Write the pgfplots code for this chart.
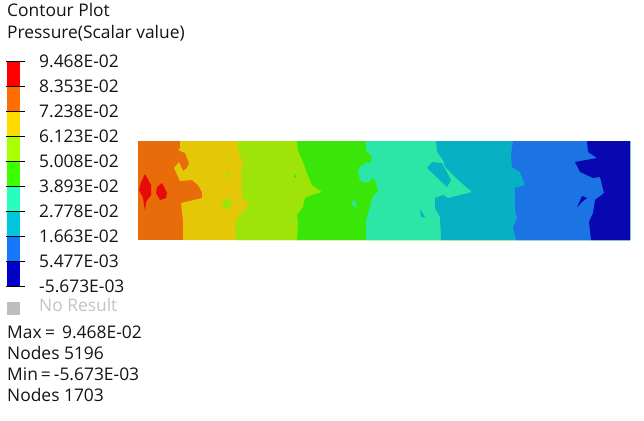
\documentclass[border=0pt]{standalone}
\usepackage{pgfplots}
\pgfplotsset{compat=1.18}
\usepackage{fontspec}
\setmainfont{Open Sans}
\definecolor{fRed}{RGB}{232,10,10}
\definecolor{fOrange}{RGB}{232,108,10}
\definecolor{fYellow}{RGB}{228,200,8}
\definecolor{fLime}{RGB}{158,228,8}
\definecolor{fGreen}{RGB}{58,230,8}
\definecolor{fTeal}{RGB}{44,230,168}
\definecolor{fCyan}{RGB}{8,176,196}
\definecolor{fBlue}{RGB}{28,116,228}
\definecolor{fNavy}{RGB}{8,8,176}
\definecolor{bRed}{RGB}{255,0,0}
\definecolor{bOrange}{RGB}{255,110,0}
\definecolor{bYellow}{RGB}{255,220,0}
\definecolor{bLime}{RGB}{170,255,0}
\definecolor{bGreen}{RGB}{60,255,0}
\definecolor{bTeal}{RGB}{40,255,190}
\definecolor{bCyan}{RGB}{0,200,220}
\definecolor{bBlue}{RGB}{20,120,255}
\definecolor{bNavy}{RGB}{0,0,200}
\definecolor{txt}{RGB}{20,20,20}
\definecolor{nores}{RGB}{195,195,195}
\definecolor{nobox}{RGB}{190,190,190}
\newcommand{\lab}[3][txt]{\node[anchor=base west,inner sep=0pt,text=#1,font=\fontsize{17.4}{20}\selectfont] at (axis cs:#2) {#3};}
\begin{document}
\begin{tikzpicture}
\useasboundingbox (0,0) rectangle (644pt,420pt);
\begin{axis}[
  at={(0,0)},anchor=south west,
  width=644pt,height=420pt,scale only axis,
  xmin=0,xmax=644,ymin=0,ymax=420,y dir=reverse,
  hide axis,clip=false]
% colour bar bins
\addplot[fill=bRed,draw=none] coordinates {(7,61)(20,61)(20,86)(7,86)} -- cycle;
\addplot[fill=bOrange,draw=none] coordinates {(7,86)(20,86)(20,111)(7,111)} -- cycle;
\addplot[fill=bYellow,draw=none] coordinates {(7,111)(20,111)(20,136)(7,136)} -- cycle;
\addplot[fill=bLime,draw=none] coordinates {(7,136)(20,136)(20,161)(7,161)} -- cycle;
\addplot[fill=bGreen,draw=none] coordinates {(7,161)(20,161)(20,186)(7,186)} -- cycle;
\addplot[fill=bTeal,draw=none] coordinates {(7,186)(20,186)(20,211)(7,211)} -- cycle;
\addplot[fill=bCyan,draw=none] coordinates {(7,211)(20,211)(20,236)(7,236)} -- cycle;
\addplot[fill=bBlue,draw=none] coordinates {(7,236)(20,236)(20,261)(7,261)} -- cycle;
\addplot[fill=bNavy,draw=none] coordinates {(7,261)(20,261)(20,286)(7,286)} -- cycle;
\addplot[black,line width=0.8pt] coordinates {(6,61)(25,61)};
\addplot[black,line width=0.8pt] coordinates {(6,86)(25,86)};
\addplot[black,line width=0.8pt] coordinates {(6,111)(25,111)};
\addplot[black,line width=0.8pt] coordinates {(6,136)(25,136)};
\addplot[black,line width=0.8pt] coordinates {(6,161)(25,161)};
\addplot[black,line width=0.8pt] coordinates {(6,186)(25,186)};
\addplot[black,line width=0.8pt] coordinates {(6,211)(25,211)};
\addplot[black,line width=0.8pt] coordinates {(6,236)(25,236)};
\addplot[black,line width=0.8pt] coordinates {(6,261)(25,261)};
\addplot[black,line width=0.8pt] coordinates {(6,286)(25,286)};
\addplot[fill=nobox,draw=none] coordinates {(7,302)(20,302)(20,315)(7,315)} -- cycle;
% plate bands, painted left to right
\addplot[fill=fOrange,draw=none] coordinates {(138,141)(630,141)(630,240)(138,240)} -- cycle;
\addplot[fill=fYellow,draw=none] coordinates {(180,141)(180,148)(178,150)(185,153)(189,163)(187,168)(183,171)(179,162)(174,168)(180,181)(192,180)(198,185)(202,192)(202,198)(181,203)(182,212)(183,220)(183,240)(630,240)(630,141)} -- cycle;
\addplot[fill=fLime,draw=none] coordinates {(238,141)(238,150)(243,163)(241,172)(242,190)(242,198)(249,203)(243,212)(237,218)(235,227)(236,240)(630,240)(630,141)} -- cycle;
\addplot[fill=fGreen,draw=none] coordinates {(297,141)(298,150)(303,162)(307,173)(312,185)(322,192)(312,195)(305,198)(303,207)(297,215)(298,223)(297,240)(630,240)(630,141)} -- cycle;
\addplot[fill=fTeal,draw=none] coordinates {(366,141)(366,150)(372,157)(371,162)(366,163)(361,166)(358,171)(360,180)(365,183)(370,181)(372,178)(375,180)(378,191)(372,198)(370,208)(366,220)(366,240)(630,240)(630,141)} -- cycle;
\addplot[fill=fCyan,draw=none] coordinates {(436,141)(437,152)(443,160)(445,167)(458,180)(472,192)(452,197)(448,198)(443,195)(435,198)(435,208)(440,217)(441,240)(630,240)(630,141)} -- cycle;
\addplot[fill=fBlue,draw=none] coordinates {(513,141)(511,155)(512,167)(520,172)(525,185)(515,188)(515,210)(517,218)(513,228)(516,240)(630,240)(630,141)} -- cycle;
\addplot[fill=fNavy,draw=none] coordinates {(587,141)(588,152)(597,158)(575,162)(580,172)(593,178)(600,177)(604,193)(595,200)(593,213)(589,222)(591,240)(630,240)(630,141)} -- cycle;
% islands
\addplot[fill=fRed,draw=none] coordinates {(145,174)(151,185)(151,195)(146,202)(145,211)(143,198)(139,190)(141,182)} -- cycle;
\addplot[fill=fRed,draw=none] coordinates {(162,183)(167,193)(166,198)(160,200)(156,193)(157,187)} -- cycle;
\addplot[fill=fLime,draw=none] coordinates {(222,205)(225,199)(232,200)(230,208)(225,209)} -- cycle;
\addplot[fill=fLime,draw=none] coordinates {(226,177)(228,170)(230,177)} -- cycle;
\addplot[fill=fGreen,draw=none] coordinates {(294,177)(296,174)(296,178)} -- cycle;
\addplot[fill=fTeal,draw=none] coordinates {(351,204)(355,199)(357,208)} -- cycle;
\addplot[fill=fCyan,draw=none] coordinates {(427,168)(432,162)(442,163)(451,180)(447,187)} -- cycle;
\addplot[fill=fCyan,draw=none] coordinates {(420,209)(425,217)(421,217)} -- cycle;
\addplot[fill=fNavy,draw=none] coordinates {(577,207)(582,196)(587,198)(582,202)} -- cycle;
% text
\lab{7,17}{Contour Plot}
\lab{7,39}{Pressure(Scalar value)}
\lab{39,67}{9.468E-02}
\lab{39,92}{8.353E-02}
\lab{39,117}{7.238E-02}
\lab{39,142}{6.123E-02}
\lab{39,167}{5.008E-02}
\lab{39,192}{3.893E-02}
\lab{39,217}{2.778E-02}
\lab{39,242}{1.663E-02}
\lab{39,267}{5.477E-03}
\lab{39,292}{-5.673E-03}
\lab[nores]{39,311}{No Result}
\lab{7,338}{Max\hspace{3.5pt}=\hspace{7pt}9.468E-02}
\lab{7,359}{Nodes 5196}
\lab{7,380}{Min\hspace{3pt}=\hspace{3pt}-5.673E-03}
\lab{7,401}{Nodes 1703}
\end{axis}
\end{tikzpicture}
\end{document}
